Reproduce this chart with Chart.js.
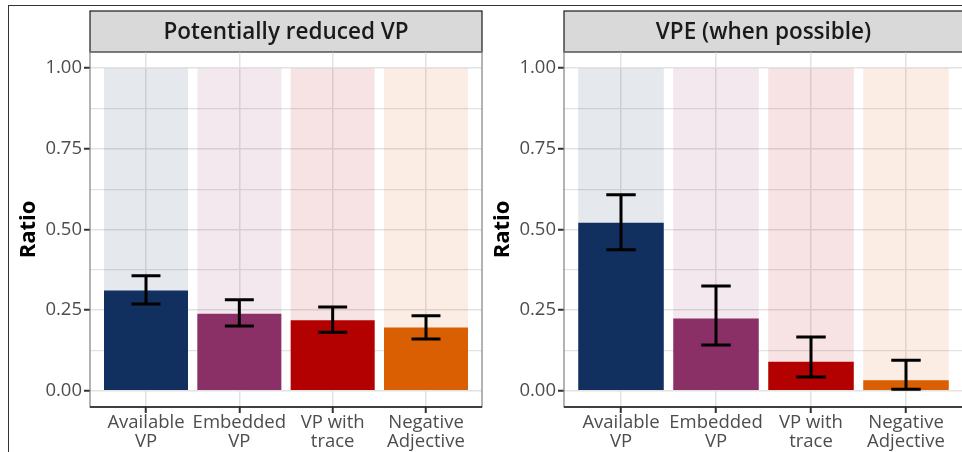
<!DOCTYPE html>
<html><head><meta charset="utf-8">
<script src="https://cdn.jsdelivr.net/npm/chart.js@4"></script>
<style>
html,body{margin:0;padding:0;background:#fff;width:962px;height:452px;overflow:hidden;position:relative}
#frame{position:absolute;left:8px;top:5px;width:1000px;height:500px;border-left:1px solid #333;border-top:1px solid #333}
.wrap{position:absolute;top:0;height:452px}
</style></head><body>
<div id="frame"></div>
<div class="wrap" style="left:0;width:490px"><canvas id="c1"></canvas></div>
<div class="wrap" style="left:474px;width:492px"><canvas id="c2"></canvas></div>
<script>
const categories = [["Available","VP"],["Embedded","VP"],["VP with","trace"],["Negative","Adjective"]];
const panelTitles = ["Potentially reduced VP","VPE (when possible)"];
const reducedRatio = [0.311,0.239,0.219,0.196];
const reducedLow   = [0.269,0.201,0.182,0.161];
const reducedHigh  = [0.357,0.282,0.260,0.233];
const vpeRatio = [0.521,0.224,0.090,0.033];
const vpeLow   = [0.437,0.142,0.043,0.005];
const vpeHigh  = [0.608,0.325,0.167,0.095];
const ceiling = [1,1,1,1];
const yTicks = [0,0.25,0.5,0.75,1];
const yMinor = [0.125,0.375,0.625,0.875];

const fgColors = ['#11305f','#8b3066','#b30000','#d95f02'];
const bgColors = ['rgba(17,48,95,0.11)','rgba(139,48,102,0.11)','rgba(179,0,0,0.11)','rgba(217,95,2,0.11)'];
const FONT = '"Open Sans", sans-serif';

function extras(title, lo, hi){
  return {
    id:'extras',
    beforeDraw(chart){
      const {ctx, chartArea:a} = chart;
      ctx.save();
      ctx.fillStyle='#d9d9d9';
      ctx.fillRect(a.left, 11, a.right-a.left, a.top-11);
      ctx.strokeStyle='#1a1a1a'; ctx.lineWidth=1.2;
      ctx.strokeRect(a.left, 11, a.right-a.left, a.top-11);
      ctx.fillStyle='#1a1a1a';
      ctx.font='600 22.5px '+FONT;
      ctx.textAlign='center'; ctx.textBaseline='middle';
      ctx.fillText(title, (a.left+a.right)/2, (11+a.top)/2+1);
      ctx.restore();
    },
    afterDatasetsDraw(chart){
      const {ctx, chartArea:a, scales:{x:xs, y:ys}} = chart;
      ctx.save();
      ctx.strokeStyle='#000'; ctx.lineWidth=3; ctx.lineCap='butt';
      const half = (xs.getPixelForValue(0.155)-xs.getPixelForValue(0));
      for(let i=0;i<lo.length;i++){
        const x = xs.getPixelForValue(i);
        const y1 = ys.getPixelForValue(lo[i]), y2 = ys.getPixelForValue(hi[i]);
        ctx.beginPath();
        ctx.moveTo(x,y1); ctx.lineTo(x,y2);
        ctx.moveTo(x-half,y1); ctx.lineTo(x+half,y1);
        ctx.moveTo(x-half,y2); ctx.lineTo(x+half,y2);
        ctx.stroke();
      }
      ctx.strokeStyle='#808080'; ctx.lineWidth=1.2;
      ctx.strokeRect(a.left, a.top, a.right-a.left, a.bottom-a.top);
      ctx.strokeStyle='#1a1a1a'; ctx.lineWidth=1.6;
      ctx.beginPath(); ctx.moveTo(a.left, a.bottom); ctx.lineTo(a.right, a.bottom); ctx.stroke();
      ctx.restore();
    }
  };
}

function makeChart(id, title, ratio, lo, hi, padRight){
  return new Chart(document.getElementById(id), {
    type:'bar',
    data:{datasets:[
      {data: ratio.map((v,i)=>({x:i,y:v})), backgroundColor: fgColors, grouped:false, order:0, barPercentage:0.9, categoryPercentage:1},
      {data: ceiling.map((v,i)=>({x:i,y:v})), backgroundColor: bgColors, grouped:false, order:1, barPercentage:0.9, categoryPercentage:1}
    ]},
    options:{
      responsive:true, maintainAspectRatio:false, animation:false,
      layout:{padding:{top:52, right:padRight, bottom:0, left:0}},
      plugins:{legend:{display:false}, tooltip:{enabled:false}},
      scales:{
        x:{type:'linear', min:-0.6, max:3.6, offset:false,
          afterBuildTicks(s){ s.ticks = categories.map((c,i)=>({value:i})); },
          afterFit(s){ s.height = 45; },
          border:{display:false},
          grid:{offset:false, color:'#e2e2e2', lineWidth:1.5, tickColor:'#333', tickLength:6, tickWidth:2},
          ticks:{autoSkip:false, maxRotation:0, minRotation:0, padding:0, color:'#4d4d4d',
            font:{family:FONT, size:18.5, weight:'500', lineHeight:1.04},
            callback:(v)=>categories[v]}
        },
        y:{type:'linear', min:-0.05, max:1.05,
          afterBuildTicks(s){ s.ticks = [...yTicks, ...yMinor].sort((a,b)=>a-b).map(v=>({value:v})); },
          afterFit(s){ s.width = 90; },
          border:{display:false},
          grid:{color:'#e2e2e2',
            lineWidth:(c)=> yTicks.includes(c.tick && c.tick.value) ? 1.5 : 1.2,
            tickColor:(c)=> yTicks.includes(c.tick && c.tick.value) ? '#333' : 'rgba(0,0,0,0)',
            tickLength:6, tickWidth:2},
          ticks:{autoSkip:false, padding:2, color:'#4d4d4d', font:{family:FONT, size:18.5, weight:'500'},
            callback:(v)=> yTicks.includes(v) ? v.toFixed(2) : ''},
          title:{display:true, text:'Ratio', color:'#000', font:{family:FONT, size:22, weight:'bold'}, padding:{top:16,bottom:0}}
        }
      }
    },
    plugins:[extras(title, lo, hi)]
  });
}
makeChart('c1', panelTitles[0], reducedRatio, reducedLow, reducedHigh, 8);
makeChart('c2', panelTitles[1], vpeRatio, vpeLow, vpeHigh, 3);
</script>
</body></html>
